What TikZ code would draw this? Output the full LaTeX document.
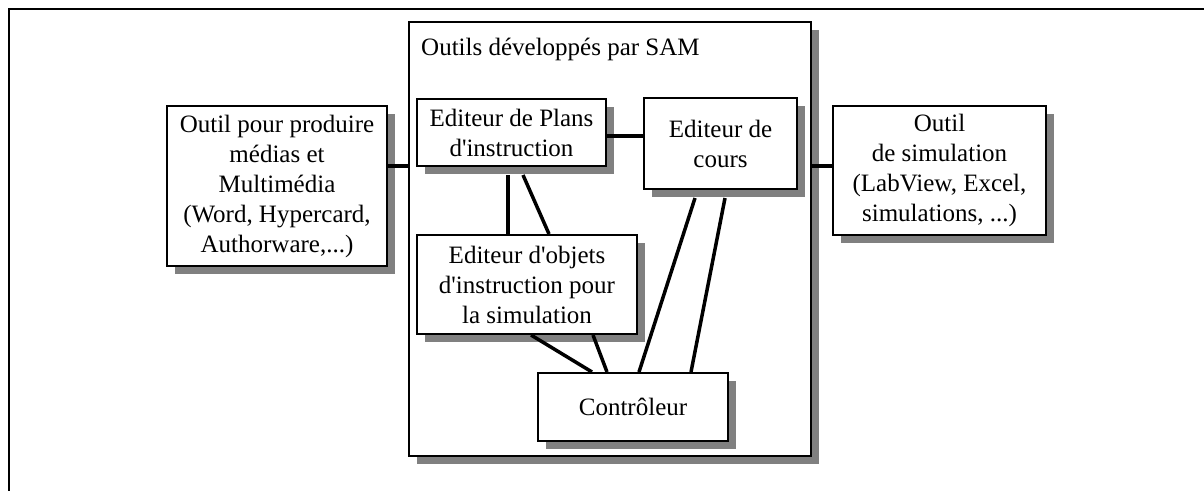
\documentclass[tikz,border=0pt]{standalone}
\usepackage{fontspec}
\setmainfont{Liberation Serif}[Ligatures=TeXOff]
\usetikzlibrary{shadows,calc}
\definecolor{sgray}{RGB}{128,128,128}
\begin{document}
\begin{tikzpicture}[x=1pt,y=-1pt,
  txt/.style={font=\fontsize{25}{30}\selectfont},
  box/.style={txt,draw,line width=2pt,fill=white,align=center,inner sep=0pt,
    drop shadow={shadow xshift=8pt,shadow yshift=-8pt,fill=sgray,opacity=1}},
  link/.style={line width=3.5pt}]
\useasboundingbox (0,0) rectangle (1204,490);
\draw[line width=2.2pt] (9,491) -- (9,9) -- (1205,9);
\node[box,minimum width=402pt,minimum height=434pt] (sam) at (610,239) {};
\node[txt,anchor=base west,inner sep=0pt] (title) at (421,55) {Outils développés par SAM};
\node[box,minimum width=220pt,minimum height=160pt] (media) at (277,186)
  {Outil pour produire\\médias et\\Multimédia\\(Word, Hypercard,\\Authorware,...)};
\node[box,minimum width=213pt,minimum height=129pt] (simu) at (939.5,170.5)
  {Outil\\de simulation\\(LabView, Excel,\\simulations, ...)};
\node[box,minimum width=189pt,minimum height=67pt] (plans) at (511.5,132.5)
  {Editeur de Plans\\d'instruction};
\node[box,minimum width=153pt,minimum height=91pt] (cours) at (720.5,143.5)
  {Editeur de\\cours};
\node[box,minimum width=220pt,minimum height=99pt] (objets) at (527,284.5)
  {Editeur d'objets\\d'instruction pour\\la simulation};
\node[box,minimum width=190pt,minimum height=68pt] (ctrl) at (633,407)
  {Contrôleur};
\draw[link] ($(media.east)+(0,-20)$) -- ($(sam.west)+(0,-73)$);
\draw[link] ($(sam.east)+(0,-73)$) -- ($(simu.west)+(0,-4.5)$);
\draw[link] ($(plans.east)+(0,3.5)$) -- ($(cours.west)+(0,-7.5)$);
\draw[link] ($(plans.south west)+(92,8)$) -- ($(objets.north west)+(92,0)$);
\draw[link] ($(plans.south west)+(107,8)$) -- ($(objets.north west)+(133,0)$);
\draw[link] ($(objets.south west)+(115,0)$) -- ($(ctrl.north west)+(55,0)$);
\draw[link] ($(objets.south west)+(177,0)$) -- ($(ctrl.north west)+(70,0)$);
\draw[link] ($(cours.south west)+(52,8)$) -- ($(ctrl.north west)+(102,0)$);
\draw[link] ($(cours.south west)+(82,8)$) -- ($(ctrl.north west)+(154,0)$);
\end{tikzpicture}
\end{document}
